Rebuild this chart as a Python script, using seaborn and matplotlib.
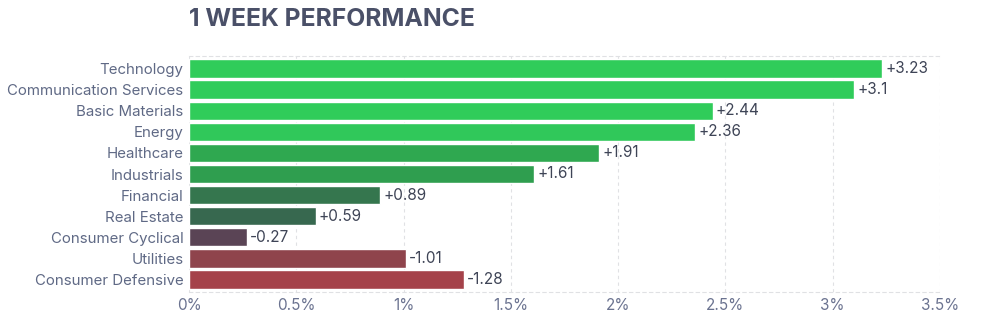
import matplotlib
matplotlib.use("Agg")
import matplotlib.pyplot as plt
import seaborn as sns
import pandas as pd
import numpy as np

sectors = ["Technology", "Communication Services", "Basic Materials", "Energy",
           "Healthcare", "Industrials", "Financial", "Real Estate",
           "Consumer Cyclical", "Utilities", "Consumer Defensive"]
changes = [3.23, 3.1, 2.44, 2.36, 1.91, 1.61, 0.89, 0.59, -0.27, -1.01, -1.28]
bar_colors = ["#30cc5a", "#30cc5a", "#30cc5a", "#30c85a", "#2fa850", "#2f9e4f",
              "#35764e", "#37684f", "#5a4455", "#8f444c", "#a5424a"]
xticks = [0, 0.5, 1, 1.5, 2, 2.5, 3, 3.5]
xtick_labels = ["0%", "0.5%", "1%", "1.5%", "2%", "2.5%", "3%", "3.5%"]

sns.set_theme(style="white")
plt.rcParams["font.family"] = ["Inter", "DejaVu Sans"]

df = pd.DataFrame({"sector": sectors, "change": changes})
df["magnitude"] = df["change"].abs()

fig = plt.figure(figsize=(9.83, 3.24), dpi=100)
ax = fig.add_axes([189 / 983, 1 - 292 / 324, (940 - 189) / 983, (292 - 56) / 324])

sns.barplot(data=df, x="magnitude", y="sector", hue="sector",
            palette=bar_colors, orient="h", width=0.88, legend=False,
            saturation=1, ax=ax, zorder=3)

ax.set_xlim(0, 3.5)
ax.set_ylim(10.6, -0.6)
ax.set_xticks(xticks)
ax.set_xticklabels(xtick_labels)
ax.set_xlabel("")
ax.set_ylabel("")

grid_color = "#e0e1e4"
dash = (0, (3, 3))
ax.grid(axis="x", color=grid_color, linestyle=dash, linewidth=0.8, zorder=0)
for side in ["left", "right"]:
    ax.spines[side].set_visible(False)
for side in ["top", "bottom"]:
    ax.spines[side].set_visible(True)
    ax.spines[side].set_color(grid_color)
    ax.spines[side].set_linestyle(dash)
    ax.spines[side].set_linewidth(0.8)

ax.tick_params(axis="x", colors="#6b7390", labelsize=11, length=0, pad=4)
ax.tick_params(axis="y", colors="#5f6985", labelsize=10.8, length=0, pad=4)

for i, (val, mag) in enumerate(zip(changes, df["magnitude"])):
    label = f"+{val:g}" if val > 0 else f"-{abs(val):g}"
    ax.text(mag + 0.015, i, label, va="center", ha="left",
            fontsize=11, color="#3e4456", zorder=4)

fig.text(189 / 983, 1 - 20 / 324, "1 WEEK PERFORMANCE", fontsize=17.8,
         fontweight="bold", color="#4a5068", ha="left", va="center")

fig.savefig("out.png", dpi=100, facecolor="white")
